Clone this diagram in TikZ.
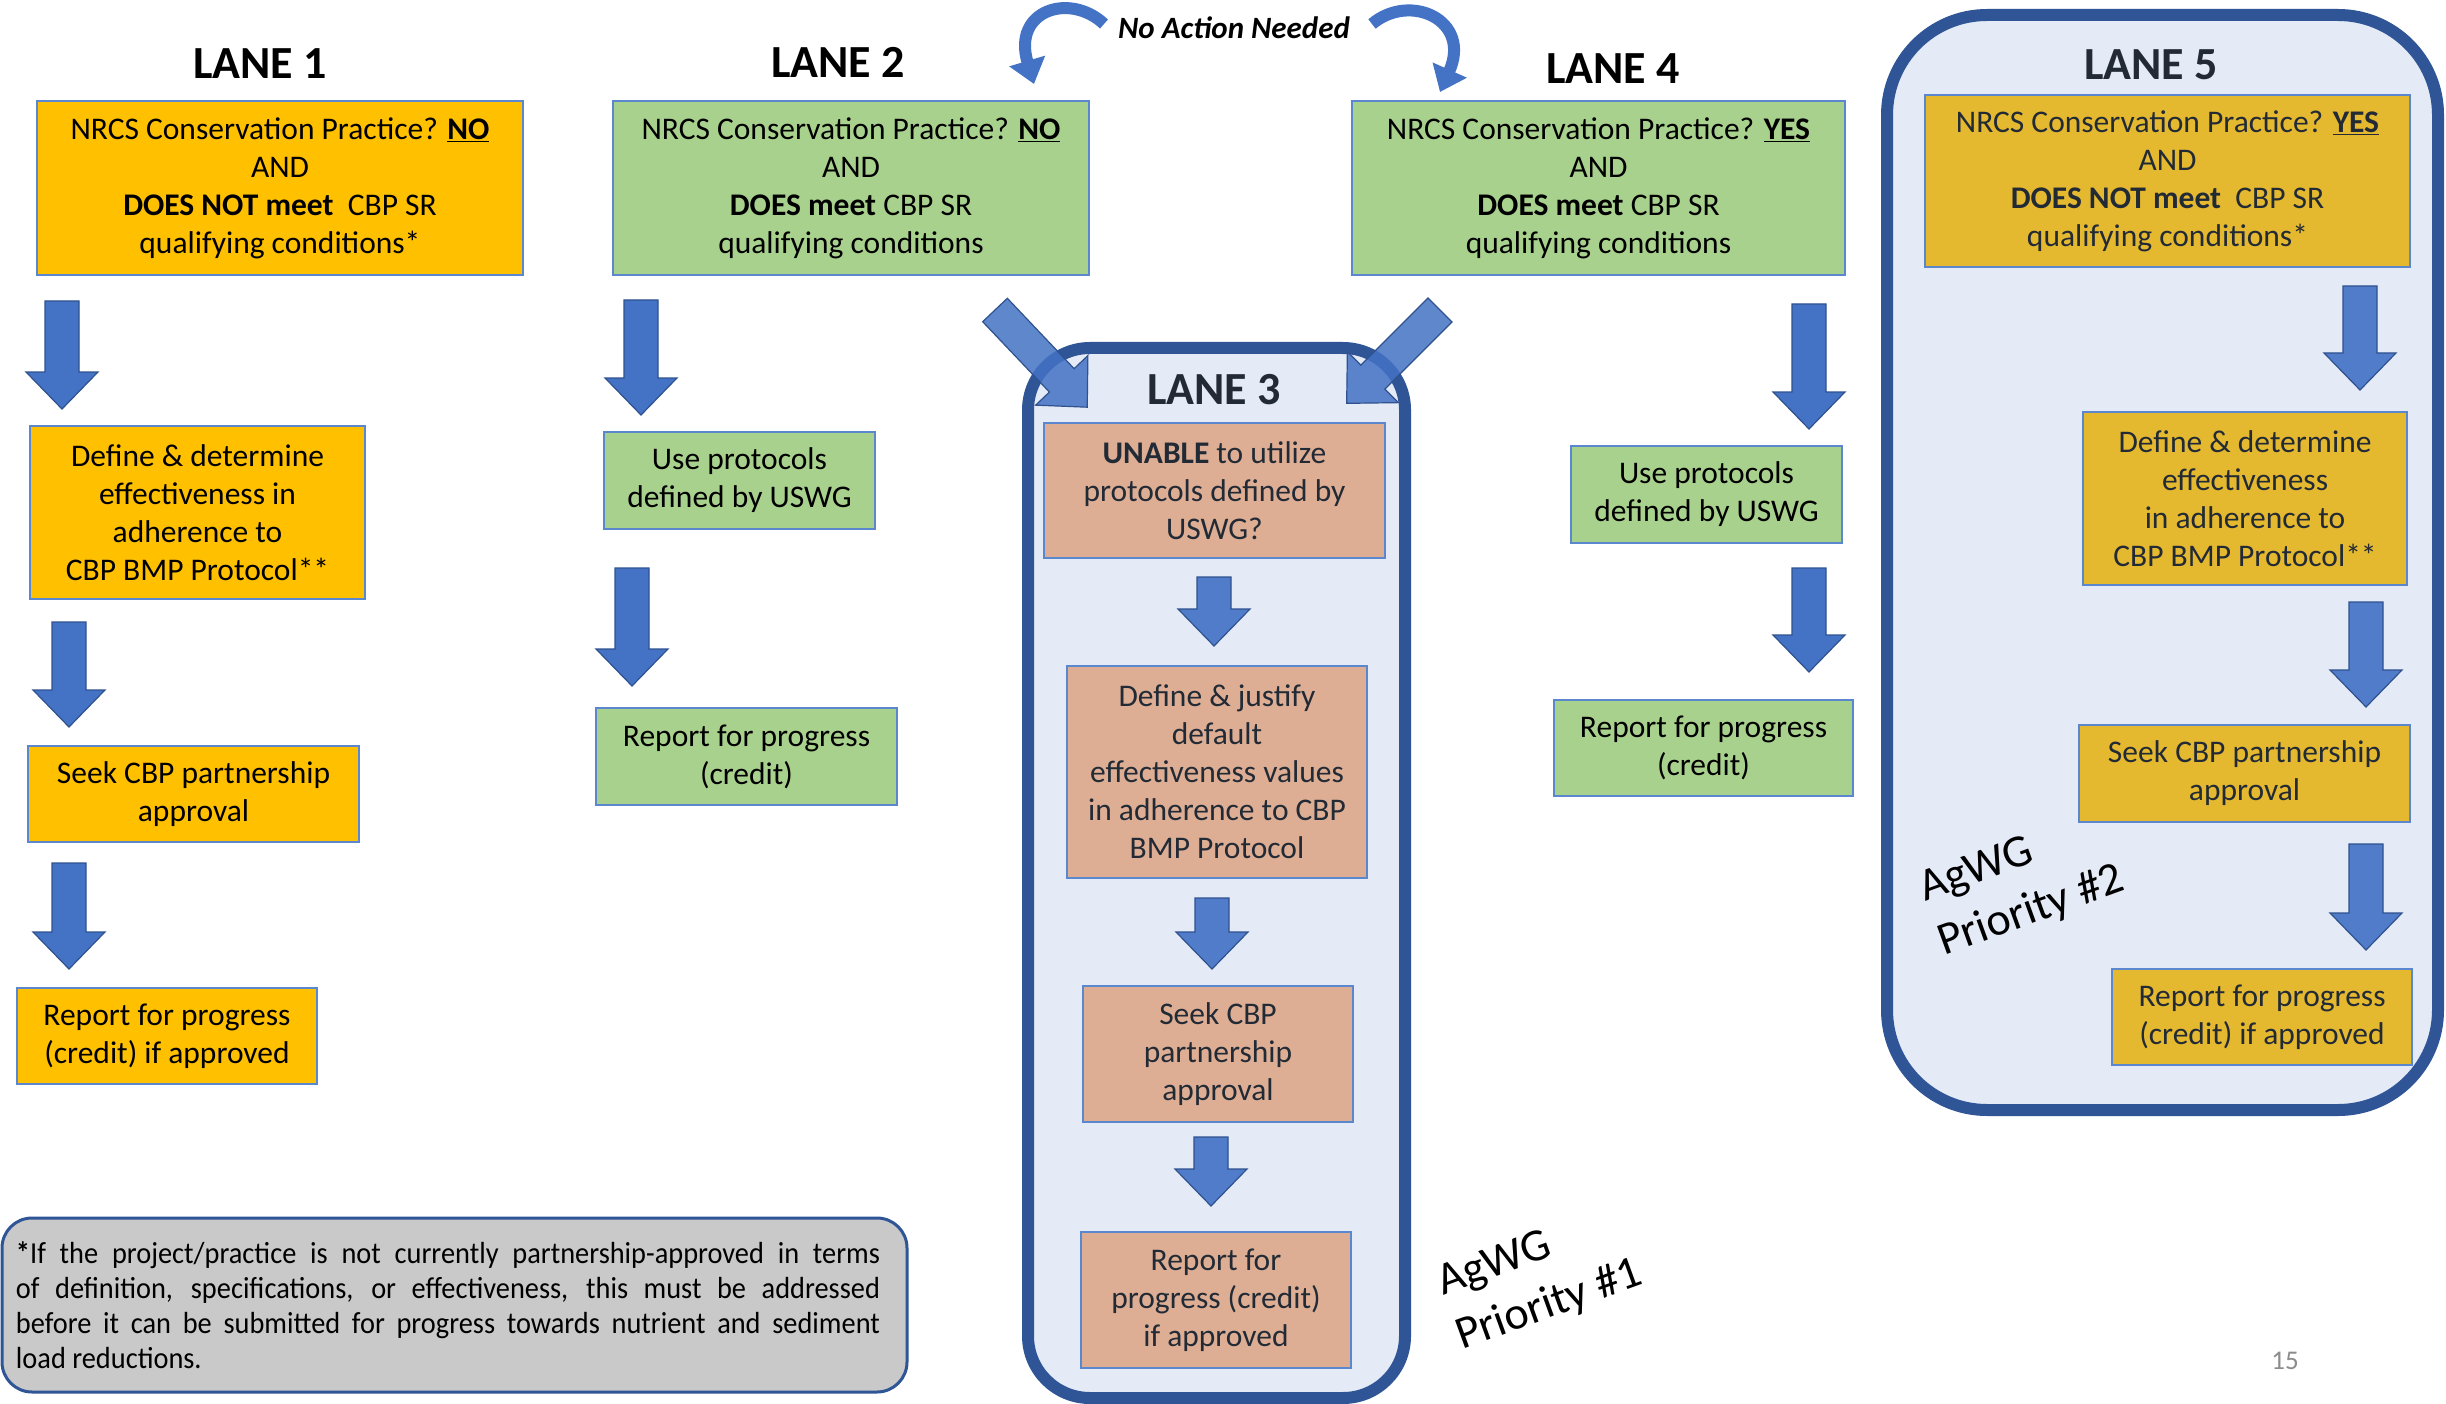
\documentclass[tikz,border=0pt]{standalone}
\usepackage{fontspec}
\setmainfont{Carlito}
\newfontfamily\notefont[FakeStretch=0.93]{Carlito}
\usetikzlibrary{arrows.meta}
\definecolor{orng}{HTML}{FFC000}
\definecolor{gold}{HTML}{E5B92F}
\definecolor{grn}{HTML}{A9D18E}
\definecolor{salm}{HTML}{DDAE94}
\definecolor{lanefill}{HTML}{E4EAF6}
\definecolor{laneline}{HTML}{2F5597}
\definecolor{boxline}{HTML}{5B87CF}
\definecolor{arrfill}{HTML}{4472C4}
\definecolor{arrfillin}{HTML}{507CC9}
\definecolor{arrline}{HTML}{2F528F}
\definecolor{darktext}{HTML}{222A35}
\definecolor{notegray}{HTML}{C9C9C9}
\definecolor{pagegray}{HTML}{8C8C8C}
\tikzset{
 box/.style={draw=boxline, line width=1.5pt, align=center, inner sep=0pt, font=\fontsize{31.5}{38}\selectfont},
 lanehead/.style={font=\fontsize{46}{50}\selectfont\bfseries, inner sep=0pt},
 lanebox/.style={draw=laneline, line width=12pt, fill=lanefill},
 barrow/.style={fill=arrfill, draw=arrline, line width=1.2pt},
 barrowin/.style={fill=arrfillin, draw=arrline, line width=1.2pt},
 barrowdiag/.style={fill=arrfill, fill opacity=0.85, draw=arrline, line width=1.2pt},
 prio/.style={font=\fontsize{46}{50}\selectfont, anchor=base west, rotate=20, inner sep=0pt},
 curvearr/.style={line width=12pt, arrfill, -{Triangle[width=36pt,length=24pt]}},
 notebox/.style={fill=notegray, draw=laneline, line width=3pt, rounded corners=30pt, inner sep=0pt},
 notetext/.style={inner sep=0pt, align=left, font=\notefont\fontsize{30.5}{35}\selectfont},
}
\newcommand\blockarr[4]{%
 \begin{scope}[shift={#2}, rotate=#3]
 \filldraw[#1] (0,-17) -- (#4-37,-17) -- (#4-37,-36) -- (#4,0) -- (#4-37,36) -- (#4-37,17) -- (0,17) -- cycle;
 \end{scope}}
\begin{document}
\begin{tikzpicture}[x=1pt,y=-1pt]
\useasboundingbox (0,0) rectangle (2446,1404);
\fill[white] (0,0) rectangle (2446,1404);

% containers
\draw[lanebox, rounded corners=62pt] (1028,348) rectangle (1405,1398);
\draw[lanebox, rounded corners=100pt] (1887,15) rectangle (2438,1110);

% headings
\node[lanehead] (h1) at (260,64) {LANE 1};
\node[lanehead] (h2) at (838,62) {LANE 2};
\node[lanehead] (h4) at (1613,69) {LANE 4};
\node[lanehead, text=darktext] (h3) at (1214,390) {LANE 3};
\node[lanehead, text=darktext] (h5) at (2151,65) {LANE 5};

% lane 1
\node[box, fill=orng, minimum width=486pt, minimum height=174pt] (l1a) at (280,188) {NRCS Conservation Practice? \underline{\textbf{NO}}\\ AND\\ \textbf{DOES NOT meet}\ \ CBP SR\\ qualifying conditions*};
\node[box, fill=orng, minimum width=335pt, minimum height=173pt] (l1b) at (197.5,512.5) {Define \& determine\\ effectiveness in\\ adherence to\\ CBP BMP Protocol**};
\node[box, fill=orng, minimum width=331pt, minimum height=96pt] (l1c) at (193.5,794) {Seek CBP partnership\\ approval};
\node[box, fill=orng, minimum width=300pt, minimum height=96pt] (l1d) at (167,1036) {Report for progress\\ (credit) if approved};
\blockarr{barrow}{(62,301)}{-90}{108}
\blockarr{barrow}{(69,622)}{-90}{105}
\blockarr{barrow}{(69,863)}{-90}{106}

% lane 2
\node[box, fill=grn, minimum width=476pt, minimum height=174pt] (l2a) at (851,188) {NRCS Conservation Practice? \underline{\textbf{NO}}\\ AND\\ \textbf{DOES meet} CBP SR\\ qualifying conditions};
\node[box, fill=grn, minimum width=271pt, minimum height=97pt] (l2b) at (739.5,480.5) {Use protocols\\ defined by USWG};
\node[box, fill=grn, minimum width=301pt, minimum height=97pt] (l2c) at (746.5,756.5) {Report for progress\\ (credit)};
\blockarr{barrow}{(641,300)}{-90}{115}
\blockarr{barrow}{(632,568)}{-90}{118}

% lane 4
\node[box, fill=grn, minimum width=493pt, minimum height=174pt] (l4a) at (1598.5,188) {NRCS Conservation Practice? \underline{\textbf{YES}}\\ AND\\ \textbf{DOES meet} CBP SR\\ qualifying conditions};
\node[box, fill=grn, minimum width=271pt, minimum height=97pt] (l4b) at (1706.5,494.5) {Use protocols\\ defined by USWG};
\node[box, fill=grn, minimum width=299pt, minimum height=96pt] (l4c) at (1703.5,748) {Report for progress\\ (credit)};
\blockarr{barrow}{(1809,304)}{-90}{125}
\blockarr{barrow}{(1809,568)}{-90}{104}

% lane 3
\node[box, fill=salm, text=darktext, minimum width=341pt, minimum height=135pt] (l3a) at (1214.5,490.5) {\textbf{UNABLE} to utilize\\ protocols defined by\\ USWG?};
\node[box, fill=salm, text=darktext, minimum width=300pt, minimum height=212pt] (l3b) at (1217,772) {Define \& justify\\ default\\ effectiveness values\\ in adherence to CBP\\ BMP Protocol};
\node[box, fill=salm, text=darktext, minimum width=270pt, minimum height=136pt] (l3c) at (1218,1054) {Seek CBP\\ partnership\\ approval};
\node[box, fill=salm, text=darktext, minimum width=270pt, minimum height=136pt] (l3d) at (1216,1300) {Report for\\ progress (credit)\\ if approved};
\blockarr{barrowin}{(1214,577)}{-90}{69}
\blockarr{barrowin}{(1212,898)}{-90}{71}
\blockarr{barrowin}{(1211,1137)}{-90}{69}
\blockarr{barrowdiag}{(995,310)}{-46.5}{134}
\blockarr{barrowdiag}{(1440,310)}{-135}{132}

% lane 5
\node[box, fill=gold, text=darktext, minimum width=485pt, minimum height=172pt] (l5a) at (2167.5,181) {NRCS Conservation Practice? \underline{\textbf{YES}}\\ AND\\ \textbf{DOES NOT meet}\ \ CBP SR\\ qualifying conditions*};
\node[box, fill=gold, text=darktext, minimum width=324pt, minimum height=173pt] (l5b) at (2245,498.5) {Define \& determine\\ effectiveness\\ in adherence to\\ CBP BMP Protocol**};
\node[box, fill=gold, text=darktext, minimum width=331pt, minimum height=97pt] (l5c) at (2244.5,773.5) {Seek CBP partnership\\ approval};
\node[box, fill=gold, text=darktext, minimum width=300pt, minimum height=96pt] (l5d) at (2262,1017) {Report for progress\\ (credit) if approved};
\blockarr{barrowin}{(2360,286)}{-90}{104}
\blockarr{barrowin}{(2366,602)}{-90}{105}
\blockarr{barrowin}{(2366,844)}{-90}{106}

% priorities (one node per line, baselines along 20 degrees)
\node[prio] (p1a) at (1443,1296) {AgWG};
\node[prio] (p1b) at (1462,1350) {Priority \#1};
\node[prio] (p2a) at (1925,902) {AgWG};
\node[prio] (p2b) at (1944,956) {Priority \#2};

% no action needed
\node[font=\fontsize{31}{36}\selectfont\bfseries\itshape, inner sep=0pt] (na) at (1234,28) {No Action Needed};
\coordinate (naL) at (1104,24);
\coordinate (naLend) at (1034,84);
\coordinate (naR) at (1372,24);
\coordinate (naRend) at (1440,92);
\draw[curvearr] (naL) .. controls (1070,-8) and (1012,10) .. (naLend);
\draw[curvearr] (naR) .. controls (1410,-8) and (1472,20) .. (naRend);

% note
\node[notebox, minimum width=905pt, minimum height=174pt] (note) at (454.5,1305) {};
\node[notetext] (notetxt) at (448,1305) {%
\makebox[864pt][s]{\textbf{*}If the project/practice is not currently partnership-approved in terms}\\
\makebox[864pt][s]{of definition, specifications, or effectiveness, this must be addressed}\\
\makebox[864pt][s]{before it can be submitted for progress towards nutrient and sediment}\\
\makebox[864pt][l]{load reductions.}};

\node[font=\fontsize{27}{30}\selectfont, text=pagegray, inner sep=0pt] (pg) at (2285,1361) {15};
\end{tikzpicture}
\end{document}
